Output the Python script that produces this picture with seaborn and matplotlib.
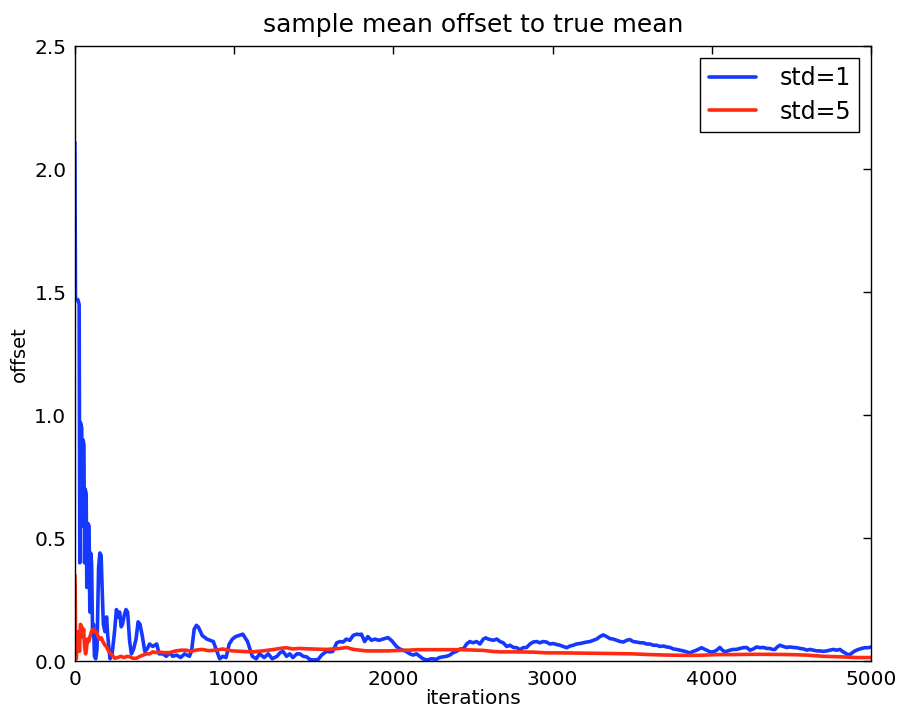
import matplotlib
matplotlib.use("Agg")
import matplotlib.pyplot as plt
import seaborn as sns
import pandas as pd

# values
iters_std1 = [1, 5, 20, 28, 32, 36, 44, 48, 52, 58, 62, 66, 72, 76, 82, 90, 95, 100, 106, 112,
              118, 124, 132, 140, 150, 158, 166, 172, 180, 190, 200, 208, 215, 222, 235, 250, 262,
              272, 282, 292, 300, 312, 322, 332, 345, 356, 370, 385, 398, 410, 425, 440, 455, 470,
              490, 515, 530, 553, 575, 597, 615, 640, 665, 690, 720, 733, 750, 764, 775, 790, 800,
              830, 850, 870, 890, 910, 930, 950, 970, 990, 1010, 1036, 1055, 1070, 1085, 1100, 1115,
              1140, 1160, 1190, 1215, 1240, 1270, 1290, 1308, 1330, 1350, 1370, 1395, 1413, 1435,
              1455, 1476, 1500, 1528, 1550, 1580, 1600, 1620, 1645, 1665, 1685, 1705, 1727, 1748,
              1770, 1790, 1800, 1820, 1840, 1863, 1885, 1910, 1935, 1966, 1988, 2020, 2040, 2060,
              2080, 2104, 2125, 2146, 2166, 2186, 2210, 2240, 2270, 2290, 2313, 2335, 2355, 2376,
              2397, 2420, 2440, 2460, 2480, 2500, 2523, 2544, 2565, 2580, 2596, 2628, 2650, 2670,
              2690, 2712, 2733, 2753, 2775, 2795, 2815, 2837, 2858, 2878, 2900, 2920, 2940, 2962,
              2983, 3004, 3025, 3046, 3067, 3088, 3110, 3130, 3150, 3172, 3193, 3214, 3235, 3255,
              3276, 3297, 3318, 3340, 3360, 3380, 3402, 3425, 3444, 3465, 3485, 3505, 3527, 3550,
              3569, 3590, 3611, 3632, 3653, 3675, 3695, 3716, 3737, 3758, 3778, 3800, 3820, 3841,
              3862, 3883, 3904, 3920, 3935, 3950, 3967, 3990, 4009, 4030, 4050, 4066, 4082, 4100,
              4113, 4135, 4155, 4176, 4197, 4218, 4239, 4260, 4281, 4302, 4323, 4345, 4364, 4380,
              4396, 4410, 4427, 4448, 4469, 4490, 4511, 4532, 4553, 4575, 4595, 4616, 4636, 4657,
              4678, 4700, 4720, 4741, 4762, 4783, 4804, 4820, 4835, 4850, 4867, 4882, 4898, 4920,
              4940, 4960, 4982, 5000]
offset_std1 = [2.11, 1.47, 1.47, 1.45, 0.40, 0.97, 0.95, 0.55, 0.90, 0.88, 0.40, 0.70, 0.68, 0.30,
               0.56, 0.55, 0.20, 0.44, 0.40, 0.12, 0.15, 0.02, 0.01, 0.05, 0.38, 0.44, 0.43, 0.30,
               0.15, 0.12, 0.18, 0.10, 0.05, 0.01, 0.03, 0.12, 0.21, 0.18, 0.20, 0.14, 0.15, 0.19,
               0.21, 0.20, 0.08, 0.03, 0.05, 0.09, 0.16, 0.15, 0.10, 0.04, 0.05, 0.07, 0.06, 0.07,
               0.03, 0.03, 0.02, 0.035, 0.02, 0.025, 0.015, 0.03, 0.02, 0.04, 0.13, 0.146, 0.14,
               0.12, 0.105, 0.09, 0.085, 0.08, 0.045, 0.01, 0.02, 0.015, 0.07, 0.09, 0.10, 0.106,
               0.11, 0.095, 0.08, 0.05, 0.02, 0.01, 0.03, 0.015, 0.03, 0.01, 0.02, 0.035, 0.04,
               0.02, 0.03, 0.015, 0.03, 0.03, 0.02, 0.018, 0.007, 0.005, 0.007, 0.025, 0.04, 0.038,
               0.04, 0.075, 0.08, 0.078, 0.09, 0.085, 0.105, 0.11, 0.108, 0.11, 0.08, 0.10, 0.085,
               0.09, 0.085, 0.09, 0.096, 0.085, 0.06, 0.05, 0.045, 0.04, 0.03, 0.025, 0.03, 0.02,
               0.01, 0.005, 0.01, 0.008, 0.015, 0.018, 0.02, 0.025, 0.035, 0.04, 0.05, 0.05, 0.07,
               0.08, 0.075, 0.08, 0.07, 0.09, 0.095, 0.09, 0.085, 0.09, 0.08, 0.075, 0.06, 0.065,
               0.056, 0.055, 0.047, 0.055, 0.056, 0.07, 0.078, 0.08, 0.075, 0.08, 0.078, 0.07,
               0.072, 0.068, 0.065, 0.06, 0.055, 0.062, 0.065, 0.07, 0.072, 0.075, 0.078, 0.08,
               0.085, 0.09, 0.10, 0.107, 0.10, 0.092, 0.09, 0.085, 0.08, 0.078, 0.085, 0.088, 0.08,
               0.078, 0.075, 0.075, 0.07, 0.07, 0.065, 0.065, 0.06, 0.062, 0.058, 0.056, 0.05,
               0.048, 0.045, 0.042, 0.038, 0.034, 0.04, 0.045, 0.05, 0.055, 0.05, 0.045, 0.038,
               0.038, 0.045, 0.056, 0.045, 0.038, 0.042, 0.045, 0.048, 0.048, 0.052, 0.055, 0.056,
               0.045, 0.05, 0.058, 0.055, 0.056, 0.052, 0.052, 0.048, 0.048, 0.058, 0.065, 0.06,
               0.056, 0.058, 0.056, 0.055, 0.052, 0.05, 0.045, 0.048, 0.045, 0.042, 0.042, 0.04,
               0.042, 0.045, 0.048, 0.045, 0.048, 0.04, 0.034, 0.028, 0.027, 0.035, 0.042, 0.048,
               0.052, 0.055, 0.055, 0.058]

iters_std5 = [1, 3, 6, 10, 16, 24, 30, 36, 44, 50, 56, 62, 68, 74, 80, 88, 96, 105, 115, 125, 136,
              146, 157, 167, 177, 190, 199, 210, 220, 235, 251, 270, 290, 310, 330, 345, 365, 387,
              410, 430, 450, 471, 490, 513, 530, 560, 596, 635, 670, 700, 730, 760, 800, 840, 890,
              930, 960, 990, 1050, 1115, 1180, 1240, 1290, 1325, 1370, 1410, 1480, 1580, 1620,
              1664, 1706, 1750, 1790, 1830, 1900, 1970, 2040, 2100, 2146, 2250, 2355, 2420, 2480,
              2565, 2620, 2670, 2775, 2878, 2962, 3050, 3172, 3297, 3400, 3500, 3611, 3716, 3820,
              3925, 4030, 4135, 4239, 4350, 4490, 4595, 4700, 4804, 4908, 5000]
offset_std5 = [0.35, 0.30, 0.05, 0.01, 0.08, 0.12, 0.04, 0.15, 0.14, 0.10, 0.13, 0.06, 0.03, 0.05,
               0.09, 0.08, 0.10, 0.12, 0.13, 0.12, 0.12, 0.10, 0.09, 0.095, 0.08, 0.065, 0.06,
               0.045, 0.035, 0.025, 0.012, 0.015, 0.02, 0.015, 0.02, 0.018, 0.012, 0.012, 0.02,
               0.025, 0.03, 0.03, 0.038, 0.035, 0.037, 0.035, 0.035, 0.042, 0.045, 0.045, 0.04,
               0.045, 0.048, 0.043, 0.045, 0.05, 0.045, 0.042, 0.04, 0.038, 0.042, 0.047, 0.052,
               0.055, 0.05, 0.052, 0.05, 0.048, 0.05, 0.052, 0.056, 0.048, 0.045, 0.042, 0.042,
               0.042, 0.044, 0.045, 0.047, 0.047, 0.047, 0.047, 0.046, 0.044, 0.04, 0.038, 0.038,
               0.037, 0.034, 0.034, 0.033, 0.032, 0.031, 0.03, 0.027, 0.025, 0.024, 0.024, 0.027,
               0.027, 0.028, 0.028, 0.027, 0.025, 0.02, 0.018, 0.015, 0.015]

x_ticks = [0, 1000, 2000, 3000, 4000, 5000]
y_ticks = [0.0, 0.5, 1.0, 1.5, 2.0, 2.5]

df1 = pd.DataFrame({"iterations": iters_std1, "offset": offset_std1})
df5 = pd.DataFrame({"iterations": iters_std5, "offset": offset_std5})

sns.set_theme(style="white")
plt.rcParams["font.family"] = ["DejaVu Sans"]
plt.rcParams["text.color"] = "black"
plt.rcParams["axes.labelcolor"] = "black"

fig, ax = plt.subplots(figsize=(9, 7.11), dpi=100)
fig.subplots_adjust(left=0.083, right=0.968, top=0.935, bottom=0.070)

sns.lineplot(data=df1, x="iterations", y="offset", ax=ax, color="#1538ff",
             linewidth=2.6, label="std=1", sort=False)
sns.lineplot(data=df5, x="iterations", y="offset", ax=ax, color="#ff2a12",
             linewidth=2.6, label="std=5", sort=False)

ax.set_xlim(0, 5000)
ax.set_ylim(0, 2.5)
ax.set_xticks(x_ticks)
ax.set_yticks(y_ticks)
ax.set_yticklabels([f"{v:.1f}" for v in y_ticks])
ax.tick_params(direction="in", top=True, right=True, length=6, width=1,
               labelsize=14.5, colors="black", pad=6)
for s in ax.spines.values():
    s.set_color("black")
    s.set_linewidth(1)

ax.set_title("sample mean offset to true mean", fontsize=18, pad=10, color="black")
ax.set_xlabel("iterations", fontsize=14.5, labelpad=0)
ax.set_ylabel("offset", fontsize=14, labelpad=4)

leg = ax.legend(loc="upper right", fontsize=17, fancybox=False, framealpha=1,
                edgecolor="black", handlelength=2.0, borderpad=0.35, handletextpad=1.0,
                labelspacing=0.4)
leg.get_frame().set_linewidth(1)
for t in leg.get_texts():
    t.set_color("black")

fig.savefig("out.png", dpi=100)
